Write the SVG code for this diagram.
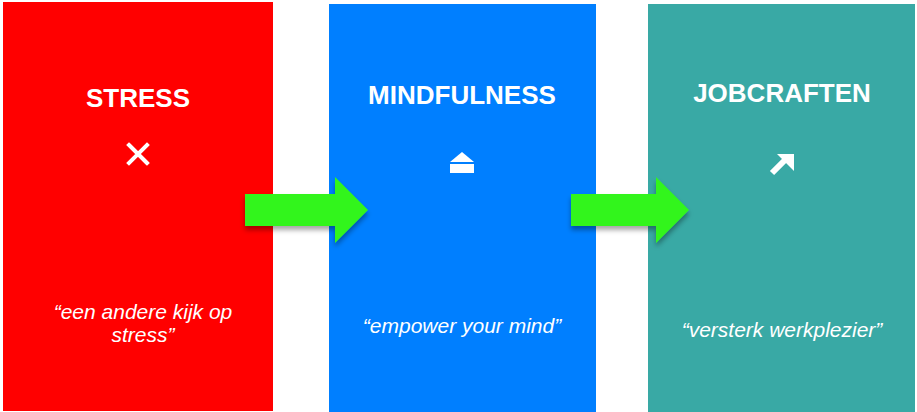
<svg xmlns="http://www.w3.org/2000/svg" width="917" height="412" viewBox="0 0 917 412">
<style>
.title{font-family:"Liberation Sans",Arial,sans-serif;font-weight:bold;font-size:26px;fill:#fff;text-anchor:middle}
.quote{font-family:"Liberation Sans",Arial,sans-serif;font-style:italic;font-size:21px;fill:#fff;text-anchor:middle}
.arrow{fill:#33f51f;filter:url(#sh)}
</style>
<defs>
<filter id="sh" x="-20%" y="-20%" width="140%" height="150%">
<feDropShadow dx="0" dy="4" stdDeviation="2.5" flood-color="#000" flood-opacity="0.35"/>
</filter>
</defs>
<rect width="917" height="412" fill="#fff"/>
<g id="stress">
<rect x="3" y="2" width="270" height="409" fill="#ff0000"/>
<text class="title" x="138" y="107">STRESS</text>
<path d="M129 145 L147 163 M147 145 L129 163" stroke="#fff" stroke-width="4" stroke-linecap="square"/>
<text class="quote" x="143" y="319">“een andere kijk op</text>
<text class="quote" x="143" y="342">stress”</text>
</g>
<g id="mindfulness">
<rect x="329" y="4" width="267" height="408" fill="#007fff"/>
<text class="title" x="462" y="104">MINDFULNESS</text>
<polygon points="462,152 474,162 450,162" fill="#fff"/>
<rect x="450" y="164" width="24" height="9" fill="#fff"/>
<text class="quote" x="462" y="333">“empower your mind”</text>
</g>
<g id="jobcraften">
<rect x="648" y="4" width="267" height="408" fill="#39a9a5"/>
<text class="title" x="782" y="102">JOBCRAFTEN</text>
<path d="M772 173 L786 159" stroke="#fff" stroke-width="6"/>
<polygon points="777,154 794,154 794,171" fill="#fff"/>
<text class="quote" x="782" y="337">“versterk werkplezier”</text>
</g>
<g id="connectors">
<polygon class="arrow" points="245,194 335,194 335,177 368,210 335,243 335,226 245,226"/>
<polygon class="arrow" points="571,194 656,194 656,177 689,210 656,243 656,226 571,226"/>
</g>
</svg>
